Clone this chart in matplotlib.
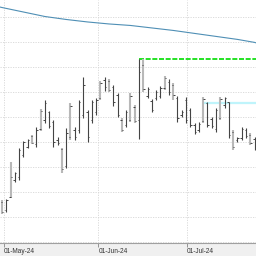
import numpy as np
import matplotlib
matplotlib.use("Agg")
import matplotlib.pyplot as plt

# daily OHLC bars (price units arbitrary, grid every 5)
opens = [83.0, 81.3, 84.0, 87.3, 88.0, 92.3, 94.0, 96.2, 94.5, 97.6,
         99.5, 101.0, 99.0, 95.5, 93.5, 90.2, 96.0, 97.5, 97.5, 100.5,
         101.0, 99.5, 101.0, 103.8, 107.5, 107.3, 106.0, 104.5, 99.5, 98.5,
         99.5, 102.0, 99.5, 110.5, 104.2, 103.3, 103.8, 104.2, 105.8, 107.0,
         106.5, 103.8, 100.5, 103.5, 101.5, 98.5, 97.5, 99.2, 102.8, 99.6,
         97.6, 99.8, 102.4, 103.0, 97.0, 95.4, 95.8, 97.4, 96.4, 95.6]
highs = [83.35, 83.55, 90.98, 88.98, 93.80, 95.20, 95.60, 96.41, 98.01, 101.63,
         103.43, 101.22, 99.42, 96.00, 93.80, 97.81, 102.83, 98.01, 103.43, 108.05,
         101.43, 103.43, 103.84, 107.25, 108.05, 107.65, 106.45, 104.84, 99.82, 101.43,
         104.84, 102.43, 111.67, 111.67, 106.04, 103.63, 105.44, 106.24, 108.25, 107.65,
         106.85, 104.14, 101.43, 104.13, 101.92, 98.82, 99.02, 104.13, 103.13, 100.02,
         101.92, 104.13, 104.13, 103.13, 97.41, 96.00, 98.01, 97.81, 96.81, 96.00]
lows = [80.54, 80.94, 83.76, 86.97, 87.37, 91.99, 93.80, 94.60, 94.00, 97.21,
        98.82, 97.81, 94.00, 94.40, 88.78, 89.78, 95.40, 95.40, 96.81, 99.82,
        95.00, 98.82, 100.42, 103.43, 105.24, 105.04, 102.23, 100.02, 97.01, 98.01,
        99.02, 98.82, 95.60, 105.04, 103.84, 101.02, 103.43, 103.84, 105.44, 104.44,
        103.53, 99.02, 100.02, 98.82, 98.01, 96.61, 97.01, 98.82, 98.01, 97.81,
        97.01, 99.42, 101.92, 95.80, 93.39, 95.00, 95.40, 95.80, 94.40, 93.39]
closes = [81.0, 83.3, 87.9, 88.8, 93.3, 94.9, 95.4, 94.8, 97.5, 101.2,
          102.8, 98.2, 95.0, 94.8, 89.5, 96.8, 102.2, 96.0, 103.0, 106.5,
          96.0, 103.0, 103.5, 106.8, 106.0, 105.5, 103.0, 100.5, 97.5, 101.0,
          104.2, 99.3, 109.0, 105.6, 105.6, 101.5, 105.0, 105.8, 107.8, 105.0,
          104.5, 99.8, 101.0, 99.5, 98.5, 97.0, 98.7, 103.6, 98.5, 98.2,
          101.4, 103.6, 103.8, 96.5, 94.0, 95.8, 97.6, 96.2, 94.8, 93.8]
# bar shade: 'd' dark, 'l' light grey
shade = ["l", "d", "l", "d", "d", "d", "d", "l", "d", "l",
         "d", "d", "d", "d", "l", "d", "l", "d", "d", "d",
         "d", "d", "d", "l", "d", "l", "d", "d", "l", "d",
         "l", "l", "d", "l", "d", "d", "d", "d", "l", "d",
         "l", "d", "d", "d", "d", "d", "d", "l", "d", "d",
         "d", "l", "d", "d", "l", "d", "d", "d", "l", "d"]

# moving average, read about every 5th bar
ma_idx = [-0.5, 0, 5, 10, 15, 20, 25, 30, 35, 40, 45, 50, 55, 59, 59.4]
ma_val = [122.1, 122.0, 121.1, 120.2, 119.6, 119.1, 118.7, 118.4, 117.9,
          117.4, 116.8, 116.2, 115.6, 115.0, 114.9]

green_level = 111.67   # dashed line from the big bar high
green_start = 32
cyan_level = 102.8
cyan_start = 47.4

tick_pos = [0.5, 22.5, 43.2]
tick_lab = ["01-May-24", "01-Jun-24", "01-Jul-24"]

fig = plt.figure(figsize=(2.56, 2.56), dpi=100, facecolor="#f0f0f0")
ax = fig.add_axes([0, 13 / 256, 1, 243 / 256])
ax.set_facecolor("white")

x = np.arange(len(opens))
dark = np.array([s == "d" for s in shade])
light = ~dark
hi = np.array(highs); lo = np.array(lows)
op = np.array(opens); cl = np.array(closes)

ax.vlines(x[light], lo[light], hi[light], color="#b8b8b8", lw=1.5, zorder=3)
ax.vlines(x[dark], lo[dark], hi[dark], color="#444444", lw=0.8, zorder=3)
tw = 0.32
ax.hlines(op, x - tw, x, color="#444444", lw=0.7, zorder=4)
ax.hlines(cl, x, x + tw, color="#444444", lw=0.7, zorder=4)

ax.plot(ma_idx, ma_val, color="#4f8fb5", lw=0.8, zorder=2)
ax.plot([green_start, 60], [green_level, green_level], color="#00dd00", lw=1.2,
        linestyle=(0, (3, 1)), zorder=2)
ax.plot([cyan_start, 60], [cyan_level, cyan_level], color="#bff4fb", lw=1.6, zorder=2)

ax.set_xlim(-0.47, 59.35)
ax.set_ylim(74.72, 123.51)
ax.set_yticks(np.arange(75, 121, 5))
ax.set_xticks(tick_pos)
ax.set_xticklabels(tick_lab, ha="left", fontsize=4.7, color="#333333",
                   family=["Liberation Sans", "DejaVu Sans"])
ax.tick_params(axis="y", left=False, labelleft=False)
ax.tick_params(axis="x", length=3, width=0.5, color="#707070", pad=0.5)
ax.grid(color="#d6d6d6", linestyle=(0, (1.5, 1.5)), linewidth=0.6, zorder=0)
for s in ["top", "left", "right"]:
    ax.spines[s].set_visible(False)
ax.spines["bottom"].set_color("#a0a0a0")
ax.spines["bottom"].set_linewidth(0.8)

fig.savefig("out.png", dpi=100, facecolor=fig.get_facecolor())
